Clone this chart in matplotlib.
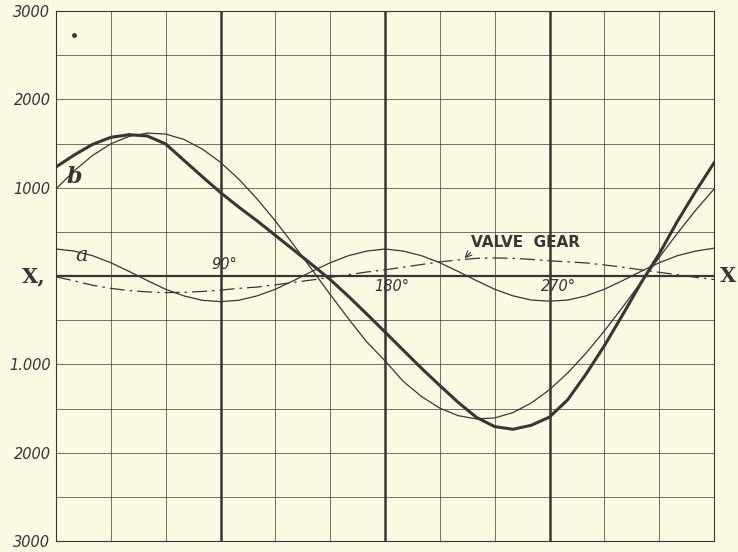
import matplotlib
matplotlib.use("Agg")
from matplotlib import pyplot as plt

# crank angle (degrees), readings every 10 degrees
angle = list(range(0, 361, 10))

# heavy curve (resultant)
resultant = [1234, 1370, 1490, 1570, 1600, 1585, 1495, 1310, 1125, 945,
             780, 625, 460, 295, 130, -40, -230, -430, -634, -840,
             -1045, -1240, -1430, -1600, -1705, -1735, -1690, -1597, -1400, -1110,
             -790, -440, -80, 250, 620, 960, 1280]

# thin curve "b"
curve_b = [985, 1192, 1365, 1496, 1581, 1618, 1607, 1546, 1438, 1287,
           1097, 873, 623, 353, 74, -209, -484, -746, -960, -1193,
           -1365, -1496, -1581, -1618, -1607, -1546, -1438, -1287, -1097, -873,
           -623, -353, -74, 209, 484, 746, 984]

# thin curve "a"
curve_a = [306, 282, 230, 150, 52, -52, -150, -225, -275, -290,
           -275, -225, -150, -52, 52, 150, 230, 282, 306, 282,
           230, 150, 52, -52, -150, -225, -272, -285, -272, -225,
           -150, -52, 52, 150, 230, 282, 315]

# valve gear (dash-dot)
valve_gear = [-10, -55, -105, -140, -165, -180, -188, -185, -175, -160,
              -140, -125, -100, -72, -45, -15, 15, 45, 70, 100,
              130, 160, 182, 200, 205, 200, 188, 172, 160, 148,
              125, 100, 70, 42, 15, -15, -40]

y_labels = ["3000", "2000", "1.000", "", "1000", "2000", "3000"]
deg_labels = ["90°", "180°", "270°"]

ink = "#3a3434"
paper = "#fbfbe3"

fig = plt.figure(figsize=(7.38, 5.52), dpi=100)
fig.patch.set_facecolor(paper)
ax = fig.add_axes([56/738, 1-541/552, (714-56)/738, (541-11)/552])
ax.set_facecolor(paper)
ax.set_xlim(0, 360)
ax.set_ylim(-3000, 3000)

# grid
ax.set_xticks(range(0, 361, 30))
ax.set_yticks(range(-3000, 3001, 1000))
ax.set_yticks(range(-2500, 3000, 1000), minor=True)
ax.grid(True, which="both", color=ink, lw=0.65, alpha=0.75)
ax.set_axisbelow(True)
ax.tick_params(axis="both", which="both", length=0, pad=4)
ax.set_xticklabels([""] * 13)
ax.set_yticklabels(y_labels, fontsize=10.5, style="italic",
                   family="DejaVu Sans", color=ink)
for s in ax.spines.values():
    s.set_color(ink)
    s.set_linewidth(0.8)

# heavy lines at 90, 180, 270 and the X axis
for a in (90, 180, 270):
    ax.axvline(a, color=ink, lw=1.8, zorder=1)
ax.axhline(0, color=ink, lw=1.6, zorder=1)

ax.plot(angle, curve_b, color=ink, lw=0.9)
ax.plot(angle, curve_a, color=ink, lw=0.9)
ax.plot(angle, resultant, color=ink, lw=2.2)
ax.plot(angle, valve_gear, color=ink, lw=0.9, linestyle=(0, (12, 4, 2, 4)))

# labels
ax.text(-6, 0, "X,", ha="right", va="center", fontsize=15, fontweight="bold",
        family="DejaVu Serif", color=ink, clip_on=False)
ax.text(363, 0, "X", ha="left", va="center", fontsize=15, fontweight="bold",
        family="DejaVu Serif", color=ink, clip_on=False)
ax.text(92, 45, deg_labels[0], ha="center", va="bottom", fontsize=10.5,
        style="italic", color=ink)
ax.text(184, -30, deg_labels[1], ha="center", va="top", fontsize=10.5,
        style="italic", color=ink)
ax.text(275, -30, deg_labels[2], ha="center", va="top", fontsize=10.5,
        style="italic", color=ink)
ax.text(10, 1120, "b", ha="center", va="center", fontsize=16, style="italic",
        family="DejaVu Serif", fontweight="bold", color=ink)
ax.text(14, 230, "a", ha="center", va="center", fontsize=15, style="italic",
        family="DejaVu Serif", color=ink)
ax.annotate("VALVE  GEAR", xy=(223, 190), xytext=(227, 380),
            ha="left", va="center", fontsize=11, fontweight="bold", color=ink,
            arrowprops=dict(arrowstyle="->", color=ink, lw=0.8,
                            connectionstyle="arc3,rad=0.3",
                            shrinkA=0, shrinkB=1))
ax.plot([10], [2730], marker="o", ms=2.5, color=ink)

plt.savefig("out.png", dpi=100, facecolor=paper)
